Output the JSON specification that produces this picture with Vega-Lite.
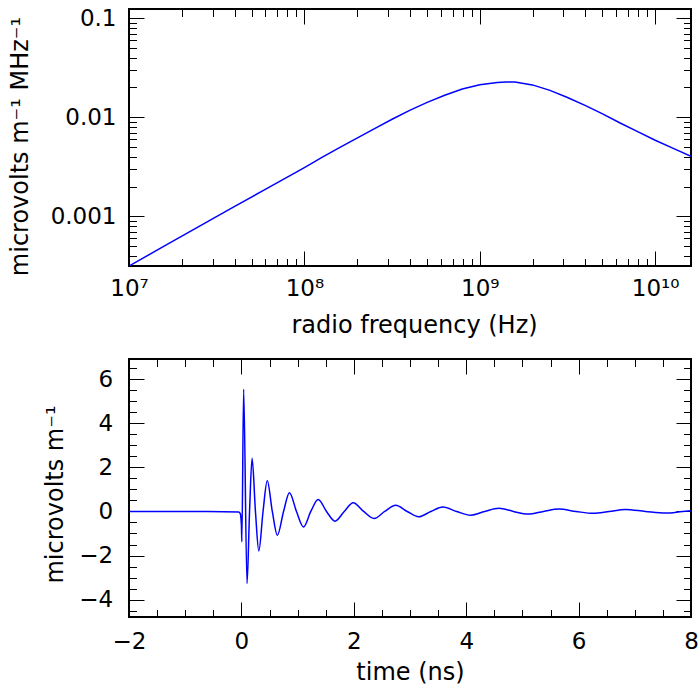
{
  "$schema": "https://vega.github.io/schema/vega-lite/v6.json",
  "background": "white",
  "padding": {"left": 7, "top": 6, "right": 8, "bottom": 2},
  "spacing": 20,
  "config": {
    "view": {"stroke": "black", "strokeWidth": 2},
    "axis": {
      "domain": false,
      "labelColor": "black", "titleColor": "black",
      "labelFont": "DejaVu Sans", "titleFont": "DejaVu Sans",
      "labelFontSize": 23, "titleFontSize": 24, "titleFontWeight": "normal",
      "labelFlush": false, "labelOverlap": false, "labelBound": false
    }
  },
  "datasets": {
    "spectrum": [
      {"f": 1e7, "v": 0.000315},
      {"f": 1.585e7, "v": 0.000499},
      {"f": 2.512e7, "v": 0.000791},
      {"f": 3.981e7, "v": 0.00125},
      {"f": 6.31e7, "v": 0.001972},
      {"f": 1e8, "v": 0.003105},
      {"f": 1.259e8, "v": 0.003936},
      {"f": 1.585e8, "v": 0.00493},
      {"f": 1.995e8, "v": 0.006166},
      {"f": 2.512e8, "v": 0.007674},
      {"f": 3.162e8, "v": 0.00955},
      {"f": 3.981e8, "v": 0.01175},
      {"f": 5.012e8, "v": 0.01413},
      {"f": 6.31e8, "v": 0.01667},
      {"f": 7.943e8, "v": 0.01928},
      {"f": 1e9, "v": 0.02128},
      {"f": 1.259e9, "v": 0.02249},
      {"f": 1.413e9, "v": 0.02275},
      {"f": 1.585e9, "v": 0.02265},
      {"f": 1.995e9, "v": 0.02123},
      {"f": 2.512e9, "v": 0.01871},
      {"f": 3.162e9, "v": 0.01585},
      {"f": 3.981e9, "v": 0.01318},
      {"f": 5.012e9, "v": 0.01084},
      {"f": 6.31e9, "v": 0.00875},
      {"f": 7.943e9, "v": 0.00716},
      {"f": 1e10, "v": 0.00586},
      {"f": 1.259e10, "v": 0.004875},
      {"f": 1.6e10, "v": 0.004046}
    ],
    "pulse": [
      {"t": -2, "v": 0},
      {"t": -0.6, "v": 0},
      {"t": -0.05, "v": -0.02},
      {"t": -0.02, "v": -0.1},
      {"t": 0.0, "v": -0.6},
      {"t": 0.008, "v": -1.38},
      {"t": 0.04, "v": 5.55},
      {"t": 0.1, "v": -3.27},
      {"t": 0.145, "v": 0},
      {"t": 0.19, "v": 2.41},
      {"t": 0.25, "v": 0},
      {"t": 0.31, "v": -1.79},
      {"t": 0.385, "v": 0},
      {"t": 0.46, "v": 1.39},
      {"t": 0.55, "v": 0},
      {"t": 0.64, "v": -1.08},
      {"t": 0.75, "v": 0},
      {"t": 0.855, "v": 0.85},
      {"t": 0.98, "v": 0},
      {"t": 1.105, "v": -0.7},
      {"t": 1.235, "v": 0},
      {"t": 1.365, "v": 0.545},
      {"t": 1.515, "v": 0},
      {"t": 1.665, "v": -0.44},
      {"t": 1.83, "v": 0},
      {"t": 1.99, "v": 0.395},
      {"t": 2.175, "v": 0},
      {"t": 2.36, "v": -0.32},
      {"t": 2.55, "v": 0},
      {"t": 2.745, "v": 0.28},
      {"t": 2.95, "v": 0},
      {"t": 3.155, "v": -0.24},
      {"t": 3.37, "v": 0},
      {"t": 3.585, "v": 0.2},
      {"t": 3.83, "v": 0},
      {"t": 4.08, "v": -0.17},
      {"t": 4.33, "v": 0},
      {"t": 4.58, "v": 0.145},
      {"t": 4.84, "v": 0},
      {"t": 5.1, "v": -0.12},
      {"t": 5.375, "v": 0},
      {"t": 5.65, "v": 0.11},
      {"t": 5.955, "v": 0},
      {"t": 6.26, "v": -0.085},
      {"t": 6.545, "v": 0},
      {"t": 6.83, "v": 0.09},
      {"t": 7.19, "v": 0},
      {"t": 7.55, "v": -0.07},
      {"t": 7.85, "v": 0},
      {"t": 8.0, "v": 0.03}
    ]
  },
  "vconcat": [
    {
      "width": 562,
      "height": 257,
      "data": {"name": "spectrum"},
      "layer": [
        {
          "mark": {"type": "line", "color": "#0000ff", "strokeWidth": 1.5, "clip": true},
          "encoding": {
            "x": {"field": "f", "type": "quantitative",
              "scale": {"type": "log", "domain": [1e7, 1.6e10], "nice": false},
              "axis": {"orient": "bottom", "values": [1e7, 1e8, 1e9, 1e10], "ticks": false, "tickSize": 0, "labelPadding": 11.6, "labelBaseline": "top",
                "grid": true, "gridColor": "black", "gridWidth": 1, "gridOpacity": 1, "gridDash": [15, 227, 15],
                "labelExpr": "datum.value < 5e7 ? '10⁷' : datum.value < 5e8 ? '10⁸' : datum.value < 5e9 ? '10⁹' : '10¹⁰'",
                "title": "radio frequency (Hz)", "titleX": 285, "titleY": 66, "titleBaseline": "alphabetic", "titleAlign": "center"}},
            "y": {"field": "v", "type": "quantitative",
              "scale": {"type": "log", "domain": [0.000315, 0.124], "nice": false},
              "axis": {"orient": "left", "values": [0.001, 0.01, 0.1], "ticks": false, "tickSize": 0, "labelPadding": 13,
                "grid": true, "gridColor": "black", "gridWidth": 1, "gridOpacity": 1, "gridDash": [15, 532, 15],
                "labelExpr": "datum.value < 0.005 ? '0.001' : datum.value < 0.05 ? '0.01' : '0.1'",
                "title": "microvolts m⁻¹ MHz⁻¹", "titleX": -102, "titleY": 137, "titleBaseline": "alphabetic", "titleAlign": "center", "titleAngle": 270}}
          }
        },
        {
          "mark": {"type": "line", "opacity": 0},
          "encoding": {
            "x": {"field": "f", "type": "quantitative",
              "scale": {"type": "log", "domain": [1e7, 1.6e10], "nice": false},
              "axis": {"orient": "bottom", "values": [2e7, 3e7, 4e7, 5e7, 6e7, 7e7, 8e7, 9e7, 2e8, 3e8, 4e8, 5e8, 6e8, 7e8, 8e8, 9e8, 2e9, 3e9, 4e9, 5e9, 6e9, 7e9, 8e9, 9e9], "ticks": false, "tickSize": 0, "labels": false, "title": null,
                "grid": true, "gridColor": "black", "gridWidth": 1, "gridOpacity": 1, "gridDash": [7.5, 242, 7.5]}},
            "y": {"field": "v", "type": "quantitative",
              "scale": {"type": "log", "domain": [0.000315, 0.124], "nice": false},
              "axis": {"orient": "left", "values": [0.0004, 0.0005, 0.0006, 0.0007, 0.0008, 0.0009, 0.002, 0.003, 0.004, 0.005, 0.006, 0.007, 0.008, 0.009, 0.02, 0.03, 0.04, 0.05, 0.06, 0.07, 0.08, 0.09], "ticks": false, "tickSize": 0, "labels": false, "title": null,
                "grid": true, "gridColor": "black", "gridWidth": 1, "gridOpacity": 1, "gridDash": [7.5, 547, 7.5]}}
          }
        }
      ],
      "resolve": {"axis": {"x": "independent", "y": "independent"}}
    },
    {
      "width": 562,
      "height": 258,
      "data": {"name": "pulse"},
      "layer": [
        {
          "mark": {"type": "line", "color": "#0000ff", "strokeWidth": 1.5, "interpolate": "monotone", "clip": true},
          "encoding": {
            "x": {"field": "t", "type": "quantitative",
              "scale": {"domain": [-2, 8], "nice": false, "zero": false},
              "axis": {"orient": "bottom", "values": [-2, 0, 2, 4, 6, 8], "ticks": false, "tickSize": 0, "labelPadding": 13.6, "labelBaseline": "top",
                "grid": true, "gridColor": "black", "gridWidth": 1, "gridOpacity": 1, "gridDash": [15, 228, 15],
                "title": "time (ns)", "titleX": 281, "titleY": 62, "titleBaseline": "alphabetic", "titleAlign": "center"}},
            "y": {"field": "v", "type": "quantitative",
              "scale": {"domain": [-4.79, 6.92], "nice": false, "zero": false},
              "axis": {"orient": "left", "values": [-4, -2, 0, 2, 4, 6], "ticks": false, "tickSize": 0, "labelPadding": 16.3,
                "grid": true, "gridColor": "black", "gridWidth": 1, "gridOpacity": 1, "gridDash": [15, 532, 15],
                "title": "microvolts m⁻¹", "titleX": -67, "titleY": 135, "titleBaseline": "alphabetic", "titleAlign": "center", "titleAngle": 270}}
          }
        },
        {
          "mark": {"type": "line", "opacity": 0},
          "encoding": {
            "x": {"field": "t", "type": "quantitative",
              "scale": {"domain": [-2, 8], "nice": false, "zero": false},
              "axis": {"orient": "bottom", "values": [-1.5, -1, -0.5, 0.5, 1, 1.5, 2.5, 3, 3.5, 4.5, 5, 5.5, 6.5, 7, 7.5], "ticks": false, "tickSize": 0, "labels": false, "title": null,
                "grid": true, "gridColor": "black", "gridWidth": 1, "gridOpacity": 1, "gridDash": [7.5, 243, 7.5]}},
            "y": {"field": "v", "type": "quantitative",
              "scale": {"domain": [-4.79, 6.92], "nice": false, "zero": false},
              "axis": {"orient": "left", "values": [-4.5, -3.5, -3, -2.5, -1.5, -1, -0.5, 0.5, 1, 1.5, 2.5, 3, 3.5, 4.5, 5, 5.5, 6.5], "ticks": false, "tickSize": 0, "labels": false, "title": null,
                "grid": true, "gridColor": "black", "gridWidth": 1, "gridOpacity": 1, "gridDash": [7.5, 547, 7.5]}}
          }
        }
      ],
      "resolve": {"axis": {"x": "independent", "y": "independent"}}
    }
  ]
}
